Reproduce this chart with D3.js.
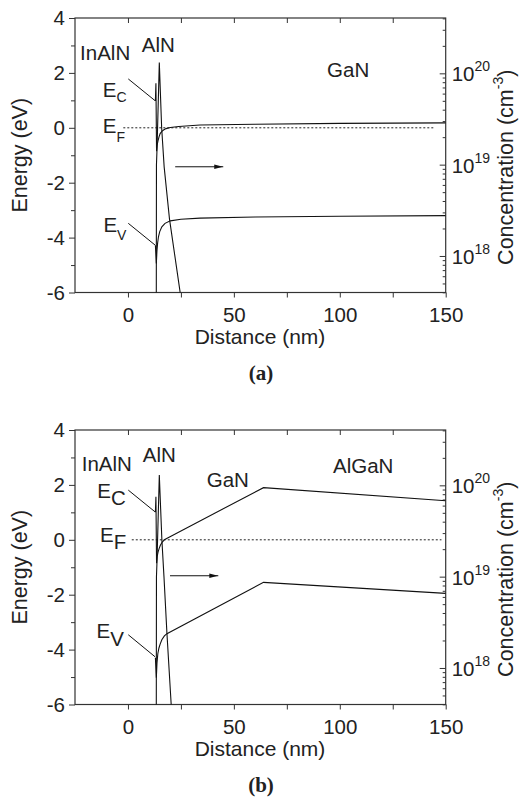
<!DOCTYPE html>
<html>
<head>
<meta charset="utf-8">
<script src="https://cdnjs.cloudflare.com/ajax/libs/d3/7.8.5/d3.min.js"></script>
<style>
body { margin: 0; background: #fff; }
text { font-family: "Liberation Sans", Arial, sans-serif; fill: #222; }
</style>
</head>
<body>
<script>
var width = 519;
var height = 798;

// axis ticks
var xTicks = [0, 50, 100, 150];
var xMinorTicks = [0, 25, 50, 75, 100, 125];
var yTicks = [-6, -4, -2, 0, 2, 4];
var yMinorTicks = [-5, -3, -1, 1, 3];
var concTicks = [1e18, 1e19, 1e20];

// (a) InAlN / AlN / GaN  -- [distance nm, energy eV]
var ecA = [[12.95,0.98],[13.2,1.62],[13.5,-0.85],[13.8,-0.62],[14.2,-0.47],[14.7,-0.32],[15.2,-0.21],[16,-0.13],[16.8,-0.08],[18,-0.03],[20,0.01],[24,0.05],[34,0.1],[60,0.13],[100,0.16],[150,0.18]];
var evA = [[12.95,-4.28],[13.4,-4.94],[13.7,-4.47],[14.0,-4.2],[14.4,-3.97],[15.0,-3.78],[16,-3.61],[17.5,-3.48],[20,-3.39],[25,-3.33],[34,-3.29],[60,-3.25],[100,-3.22],[150,-3.2]];
// electron concentration, cm^-3
var concA = [[13.35,1e17],[13.45,1e19],[13.7,1.44e19],[14.8,1.31e20],[15.9,2.55e19],[17.1,9.4e18],[19.6,2.55e18],[24.7,3.9e17],[26,2.2e17]];

// (b) InAlN / AlN / GaN / AlGaN
var ecB = [[12.95,1.0],[13.2,1.57],[13.5,-0.85],[13.8,-0.6],[14.2,-0.45],[14.7,-0.32],[15.3,-0.2],[16.2,-0.08],[17.2,0.0],[18.5,0.06],[64,1.9],[150,1.42]];
var evB = [[12.95,-4.3],[13.4,-5.02],[13.7,-4.5],[14.1,-4.15],[14.6,-3.95],[15.2,-3.8],[16,-3.64],[17.2,-3.5],[18.4,-3.42],[64,-1.55],[150,-1.95]];
var concB = [[13.35,1e17],[13.45,1e19],[13.7,1.44e19],[14.8,1.3e20],[16,2.57e19],[17,1.0e19],[18.4,2.4e18],[20.4,4e17],[21,2.5e17]];

var svg = d3.select("body")
    .append("svg")
    .attr("width", width)
    .attr("height", height);

svg.append("defs").append("marker")
    .attr("id", "arrow")
    .attr("markerUnits", "userSpaceOnUse")
    .attr("markerWidth", 9)
    .attr("markerHeight", 6)
    .attr("refX", 9)
    .attr("refY", 3)
    .attr("orient", "auto")
  .append("path")
    .attr("d", "M0,0.8 L9,3 L0,5.2 Z")
    .attr("fill", "#111");

var x = d3.scaleLinear().domain([-25, 150]).range([75, 445.7]);
var plotH = 274.5;

function bandLabel(g, px, py, sub, size, subSize, dy) {
  var t = g.append("text").attr("x", px).attr("y", py).style("font-size", size + "px");
  t.append("tspan").text("E");
  t.append("tspan").attr("dy", dy).style("font-size", subSize + "px").text(sub);
}

function drawPanel(p) {
  var g = svg.append("g");
  var y = d3.scaleLinear().domain([-6, 4]).range([p.top + plotH, p.top]);
  var yc = d3.scaleLog().domain([Math.pow(10, 17.6), Math.pow(10, 20.606)]).range([p.top + plotH, p.top]);

  g.append("clipPath").attr("id", "clip" + p.id)
    .append("rect")
    .attr("x", x(-25)).attr("y", p.top)
    .attr("width", x(150) - x(-25)).attr("height", plotH);

  // axes
  var left = g.append("g").attr("transform", "translate(" + x(-25) + ",0)")
    .call(d3.axisLeft(y).tickValues(yTicks).tickSize(6).tickSizeOuter(0).tickPadding(4)
      .tickFormat(function(d){ return String(d); }));
  g.append("g").attr("transform", "translate(" + x(-25) + ",0)")
    .call(d3.axisLeft(y).tickValues(yMinorTicks).tickSize(4).tickSizeOuter(0).tickFormat(""));
  g.append("g").attr("transform", "translate(0," + p.top + ")")
    .call(d3.axisTop(x).tickValues(xMinorTicks).tickSize(-5).tickSizeOuter(0).tickFormat(""));
  g.append("g").attr("transform", "translate(0," + (p.top + plotH) + ")")
    .call(d3.axisBottom(x).tickValues(xMinorTicks.concat([150])).tickSize(5).tickSizeOuter(0)
      .tickPadding(10).tickFormat(function(d){ return xTicks.indexOf(d) >= 0 ? String(d) : ""; }));

  var minor = yc.ticks().filter(function(d){
    var e = Math.log10(d); return Math.abs(e - Math.round(e)) > 1e-6;
  });
  g.append("g").attr("transform", "translate(" + x(150) + ",0)")
    .call(d3.axisRight(yc).tickValues(minor).tickSize(-3).tickSizeOuter(0).tickFormat(""));
  var right = g.append("g").attr("transform", "translate(" + x(150) + ",0)")
    .call(d3.axisRight(yc).tickValues(concTicks).tickSize(-6).tickSizeOuter(0).tickFormat(""));

  g.selectAll(".domain").remove();
  g.selectAll(".tick line").attr("stroke", "#333").attr("stroke-width", 1);
  g.selectAll(".tick text").style("font-size", "20.5px").attr("fill", "#222")
    .style("font-family", "'Liberation Sans', Arial, sans-serif");

  // right log labels 10^n
  g.selectAll(".conclabel").data(concTicks).enter().append("text")
    .attr("class", "conclabel")
    .attr("x", x(150) + 6)
    .attr("y", function(d){ return yc(d) + 8; })
    .style("font-size", "20.5px")
    .each(function(d){
      var t = d3.select(this);
      t.append("tspan").text("10");
      t.append("tspan").attr("dy", -10).style("font-size", "14px").text(Math.round(Math.log10(d)));
    });

  // frame
  g.append("rect")
    .attr("x", x(-25)).attr("y", p.top)
    .attr("width", x(150) - x(-25)).attr("height", plotH)
    .attr("fill", "none").attr("stroke", "#333").attr("stroke-width", 1.2);

  // Fermi level
  g.append("line")
    .attr("x1", x(p.efFrom)).attr("x2", x(p.efTo))
    .attr("y1", y(0)).attr("y2", y(0))
    .attr("stroke", "#222").attr("stroke-width", 1).attr("stroke-dasharray", "2,2");

  var band = d3.line().x(function(d){ return x(d[0]); }).y(function(d){ return y(d[1]); });
  var conc = d3.line().x(function(d){ return x(d[0]); }).y(function(d){ return yc(d[1]); });

  var curves = g.append("g").attr("clip-path", "url(#clip" + p.id + ")");
  curves.append("path").attr("d", band(p.ec)).attr("fill", "none").attr("stroke", "#111").attr("stroke-width", 1.1);
  curves.append("path").attr("d", band(p.ev)).attr("fill", "none").attr("stroke", "#111").attr("stroke-width", 1.1);
  curves.append("path").attr("d", conc(p.conc)).attr("fill", "none").attr("stroke", "#111").attr("stroke-width", 1.1);

  // leaders
  p.leaders.forEach(function(l){
    g.append("line")
      .attr("x1", x(l[0])).attr("y1", y(l[1]))
      .attr("x2", x(l[2])).attr("y2", y(l[3]))
      .attr("stroke", "#111").attr("stroke-width", 1);
  });

  // arrow pointing to the right axis
  g.append("line")
    .attr("x1", x(p.arrow[0])).attr("x2", x(p.arrow[1]))
    .attr("y1", y(p.arrow[2])).attr("y2", y(p.arrow[2]))
    .attr("stroke", "#111").attr("stroke-width", 1)
    .attr("marker-end", "url(#arrow)");

  // layer labels
  p.layers.forEach(function(l){
    g.append("text").attr("x", x(l[1])).attr("y", y(l[2]))
      .style("font-size", "20.5px").text(l[0]);
  });

  bandLabel(g, x(p.ecLab[0]), y(p.ecLab[1]), "C", 20.5, p.subSize, p.subDy[0]);
  bandLabel(g, x(p.efLab[0]), y(p.efLab[1]), "F", 20.5, p.subSize, p.subDy[1]);
  bandLabel(g, x(p.evLab[0]), y(p.evLab[1]), "V", 20.5, p.subSize, p.subDy[2]);

  // axis titles
  g.append("text")
    .attr("x", 260).attr("y", p.top + plotH + 51)
    .attr("text-anchor", "middle")
    .style("font-size", "21px")
    .text("Distance (nm)");

  g.append("text")
    .attr("transform", "translate(27," + (p.top + plotH / 2) + ") rotate(-90)")
    .attr("text-anchor", "middle")
    .style("font-size", "21.5px")
    .text("Energy (eV)");

  var ct = g.append("text")
    .attr("transform", "translate(513," + (p.top + plotH / 2 + 12) + ") rotate(-90)")
    .attr("text-anchor", "middle")
    .style("font-size", "21.5px");
  ct.append("tspan").text("Concentration (cm");
  ct.append("tspan").attr("dy", -10).style("font-size", "14px").text("-3");
  ct.append("tspan").attr("dy", 10).text(")");

  g.append("text")
    .attr("x", 261).attr("y", p.caption)
    .attr("text-anchor", "middle")
    .style("font-family", "'Liberation Serif', 'Times New Roman', serif")
    .style("font-weight", "bold")
    .style("font-size", "21px")
    .text(p.label);
}

drawPanel({
  id: "a", top: 18, label: "(a)", caption: 380,
  ec: ecA, ev: evA, conc: concA,
  efFrom: -2.2, efTo: 145,
  arrow: [22.3, 45, -1.42],
  leaders: [[0.16, 1.78, 12.77, 0.99], [0.16, -3.48, 12.77, -4.27]],
  layers: [["InAlN", -22.6, 2.47], ["AlN", 6.5, 2.77], ["GaN", 94, 1.85]],
  ecLab: [-11.9, 1.13], efLab: [-11.9, -0.18], evLab: [-11.6, -3.79],
  subSize: 14, subDy: [5, 9, 8]
});

drawPanel({
  id: "b", top: 430, label: "(b)", caption: 792,
  ec: ecB, ev: evB, conc: concB,
  efFrom: 1.8, efTo: 148,
  arrow: [19.85, 42.65, -1.31],
  leaders: [[0.16, 1.81, 12.77, 1.02], [0.16, -3.46, 12.77, -4.26]],
  layers: [["InAlN", -21.8, 2.49], ["AlN", 7.0, 2.85], ["GaN", 37.2, 1.93], ["AlGaN", 96.8, 2.43]],
  ecLab: [-14.5, 1.52], efLab: [-13.2, -0.07], evLab: [-14.8, -3.59],
  subSize: 20.5, subDy: [7, 7.5, 8]
});
</script>
</body>
</html>
